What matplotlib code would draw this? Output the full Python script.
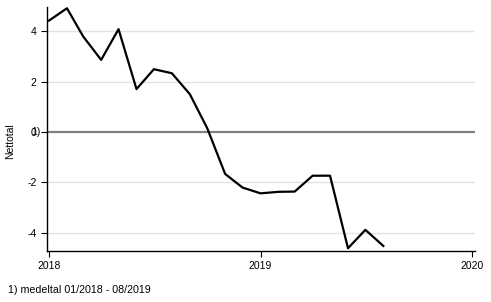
import matplotlib
matplotlib.use("Agg")
import matplotlib.pyplot as plt
import matplotlib.dates as mdates
import pandas as pd

plt.rcParams['font.family'] = ['Liberation Sans', 'DejaVu Sans']

months = pd.date_range("2018-01-01", periods=20, freq="MS")
values = [4.42, 4.91, 3.79, 2.86, 4.08, 1.70, 2.49, 2.33, 1.50, 0.15,
          -1.67, -2.21, -2.44, -2.38, -2.37, -1.74, -1.74, -4.62, -3.89, -4.53]
yticks = [-4, -2, 0, 2, 4]
xtick_dates = pd.to_datetime(["2018-01-01", "2019-01-01", "2020-01-01"])
xtick_labels = ["2018", "2019", "2020"]
ylabel = "Nettotal"
mean_label = "1)"
footnote = "1) medeltal 01/2018 - 08/2019"

fig = plt.figure(figsize=(4.91, 3.02), dpi=100)
ax = fig.add_axes([47/491, 1-251/302, (475-47)/491, (251-7)/302])

x0 = mdates.date2num(pd.Timestamp("2018-01-01"))
x2 = mdates.date2num(pd.Timestamp("2020-01-01"))
ppd = (x2 - x0) / (472 - 49)
ax.set_xlim(x0 - 2*ppd, x2 + 3*ppd)
ax.set_ylim(-4.73, 4.96)

for yv in yticks:
    if yv != 0:
        ax.axhline(yv, color="#e3e3e3", lw=1.0, zorder=0)
ax.axhline(0, color="#808080", lw=1.6, zorder=1)

ax.plot(months, values, color="black", lw=1.6, zorder=3)

ax.set_yticks(yticks)
ax.set_yticklabels([str(v) for v in yticks])
ax.set_xticks(xtick_dates)
ax.set_xticklabels(xtick_labels)
ax.tick_params(axis="both", labelsize=7.5, length=4.5, width=0.8, colors="black")
ax.tick_params(axis="y", pad=3)
ax.tick_params(axis="x", pad=3)

ax.spines["top"].set_visible(False)
ax.spines["right"].set_visible(False)
ax.spines["left"].set_linewidth(1.0)
ax.spines["bottom"].set_linewidth(1.0)

ax.set_ylabel(ylabel, fontsize=7.5)
ax.yaxis.set_label_coords(-0.0748, 0.449)
ax.text((31 - 47) / 428, 0, mean_label, transform=ax.get_yaxis_transform(),
        ha="left", va="center", fontsize=7.5)

fig.text(8/491, 1-290/302, footnote, fontsize=7.7, ha="left", va="center")

fig.savefig("out.png", dpi=100)
